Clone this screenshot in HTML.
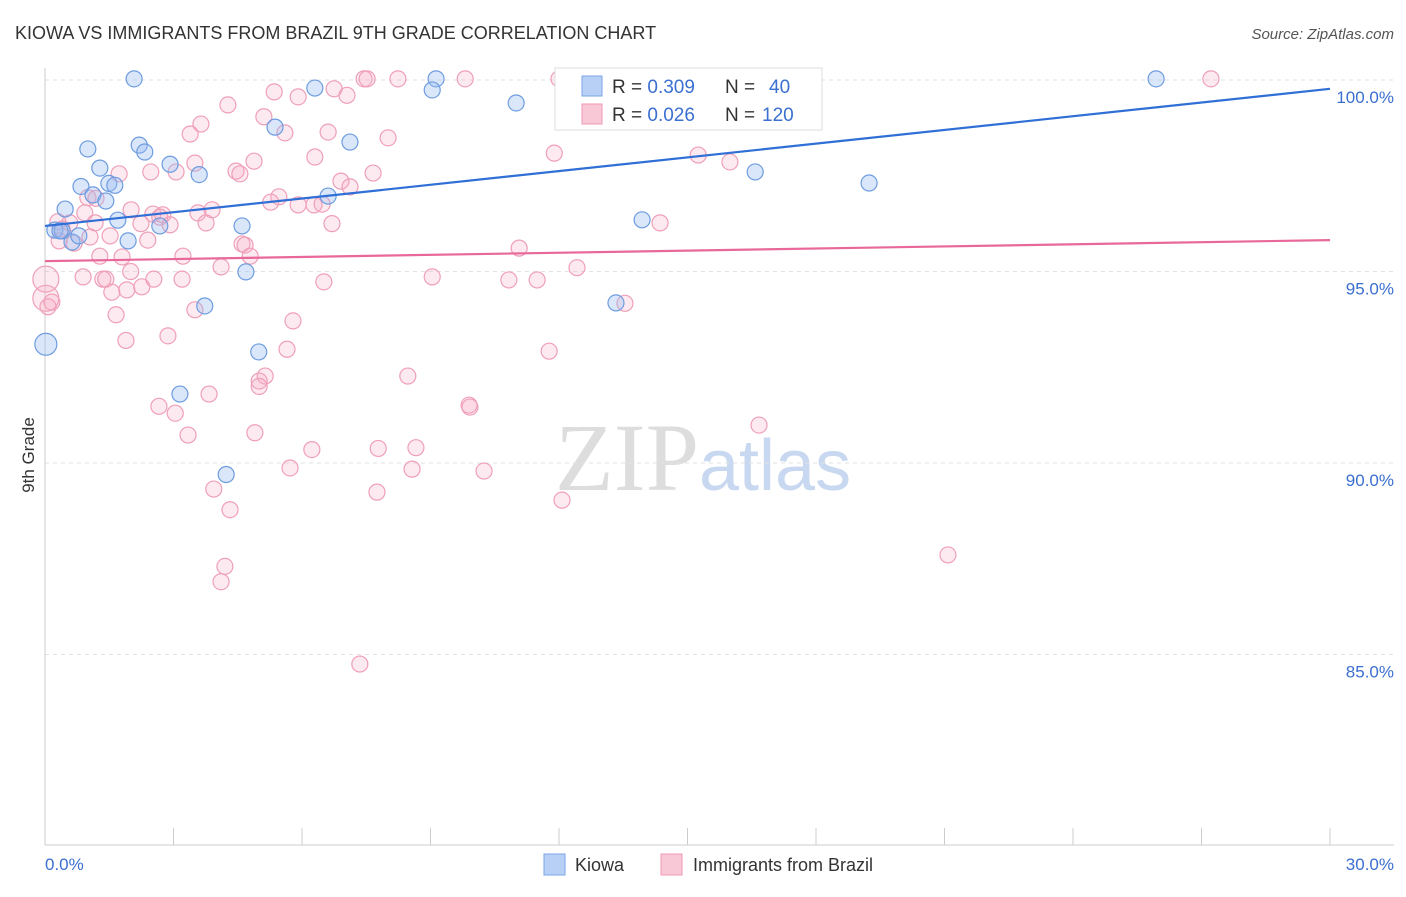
<!DOCTYPE html>
<html><head><meta charset="utf-8"><style>
body{margin:0;background:#fff;font-family:"Liberation Sans",sans-serif}
</style></head><body>
<svg id="chart" width="1406" height="892" xmlns="http://www.w3.org/2000/svg" font-family="Liberation Sans, sans-serif">
<text x="15" y="39" font-size="18" fill="#333">KIOWA VS IMMIGRANTS FROM BRAZIL 9TH GRADE CORRELATION CHART</text>
<text x="1394" y="39" font-size="15" fill="#555" font-style="italic" text-anchor="end">Source: ZipAtlas.com</text>
<text x="555" y="490" font-size="96" fill="#ddd" font-family="Liberation Serif, serif">ZIP<tspan fill="#c8d8f0" font-family="Liberation Sans, sans-serif" font-size="72">atlas</tspan></text>
<g id="grid"></g><g id="axes"></g><g id="pts"></g><g id="lines"></g>
<text transform="translate(34,455) rotate(-90)" font-size="17" fill="#333" text-anchor="middle">9th Grade</text>
<text x="45" y="870" font-size="17" fill="#3b6fd0">0.0%</text>
<text x="1394" y="870" font-size="17" fill="#3b6fd0" text-anchor="end">30.0%</text>
<g>
<rect x="555" y="68" width="267" height="62" fill="#fff" stroke="#ddd"/>
<rect x="582" y="76" width="20" height="20" fill="#b8d0f5" stroke="#7aa6e8"/>
<rect x="582" y="104" width="20" height="20" fill="#f9c8d6" stroke="#ee99b2"/>
<text x="612" y="93" font-size="19" fill="#333" xml:space="preserve">R = <tspan fill="#3b6fd0">0.309</tspan></text>
<text x="725" y="93" font-size="19" fill="#333" xml:space="preserve">N =  <tspan fill="#3b6fd0" x="769">40</tspan></text>
<text x="612" y="121" font-size="19" fill="#333" xml:space="preserve">R = <tspan fill="#3b6fd0">0.026</tspan></text>
<text x="725" y="121" font-size="19" fill="#333" xml:space="preserve">N = <tspan fill="#3b6fd0" x="762">120</tspan></text>
</g>
<g>
<rect x="544" y="854" width="21" height="21" fill="#b8d0f5" stroke="#7aa6e8"/>
<text x="575" y="871" font-size="18" fill="#333">Kiowa</text>
<rect x="661" y="854" width="21" height="21" fill="#f9c8d6" stroke="#ee99b2"/>
<text x="693" y="871" font-size="18" fill="#333">Immigrants from Brazil</text>
</g>
</svg>
<script>
const yTicks=[100,95,90,85];
const kiowaTrend=[96.19,99.77];
const brazilTrend=[95.27,95.82];
const kiowaX=[2.08,6.3,9.13,9.04,11.0,25.94,1.0,2.2,2.33,2.92,3.6,5.37,7.12,1.28,0.84,1.49,1.63,1.12,1.42,0.47,0.23,0.40,0.63,0.79,1.70,1.94,2.68,4.6,6.61,4.69,3.73,4.99,3.15,4.23,0.02,13.33,13.94,16.58,19.24,0.35];
const kiowaY=[100.03,99.79,100.03,99.74,99.4,100.03,98.2,98.3,98.12,97.8,97.53,98.77,98.38,97.7,97.22,97.3,97.25,97.0,96.84,96.63,96.08,96.06,95.77,95.93,96.34,95.8,96.19,96.19,96.97,94.99,94.1,92.9,91.8,89.7,93.1,94.18,96.35,97.6,97.31,96.06];
const brazilX=[7.45,7.52,8.24,9.81,12.0,16.23,27.22,6.75,7.05,5.35,5.91,4.27,5.11,3.64,3.39,5.6,6.61,8.01,11.89,15.25,6.3,4.88,3.5,1.73,2.47,3.06,4.46,4.55,7.66,6.91,7.12,15.99,5.46,5.27,5.91,6.28,6.47,1.0,1.19,3.9,3.57,2.01,2.52,2.75,2.68,2.24,2.92,3.76,6.7,0.93,0.58,1.17,0.40,1.52,1.05,2.40,0.33,0.68,4.6,4.67,4.79,1.28,1.80,3.22,11.07,14.36,12.42,4.11,9.04,10.83,11.49,6.51,0.89,1.35,1.42,2.54,3.2,1.56,1.91,2.26,0.16,0.07,1.66,13.54,5.79,2.87,1.89,5.65,11.77,5.14,8.47,5.0,3.83,2.66,3.04,9.9,9.92,16.67,3.34,4.9,8.66,6.23,7.78,5.72,8.57,10.25,3.94,4.32,7.75,12.07,4.2,4.11,21.08,7.35,0.02,0.02,0.3,2.0,3.5,5.0];
const brazilY=[100.03,100.03,100.03,100.03,100.03,100.03,100.03,99.77,99.6,99.69,99.56,99.35,99.04,98.85,98.59,98.62,98.64,98.49,98.09,98.04,97.99,97.88,97.83,97.55,97.6,97.6,97.62,97.55,97.57,97.36,97.21,97.86,96.95,96.81,96.74,96.74,96.76,96.93,96.91,96.61,96.53,96.61,96.5,96.48,96.42,96.25,96.22,96.27,96.25,96.53,96.27,96.27,96.11,95.93,95.9,95.82,95.8,95.74,95.72,95.69,95.4,95.4,95.38,95.4,95.61,96.27,95.1,95.12,94.86,94.78,94.78,94.73,94.86,94.8,94.8,94.8,94.8,94.46,94.52,94.6,94.2,94.08,93.87,94.17,93.71,93.32,93.2,92.97,92.92,92.27,92.27,92.14,91.8,91.48,91.3,91.51,91.46,90.99,90.73,90.79,90.4,90.35,90.38,89.87,89.84,89.79,89.32,88.78,89.24,89.03,87.3,86.9,87.6,84.75,94.8,94.3,96.3,95.0,94.0,92.0];
const X=v=>45+v*(1285/30), Y=v=>80+(100-v)*38.3;
const NS='http://www.w3.org/2000/svg';
function mk(t,a,p){const e=document.createElementNS(NS,t);for(const k in a)e.setAttribute(k,a[k]);p.appendChild(e);return e;}
const grid=document.getElementById('grid'),axes=document.getElementById('axes'),pts=document.getElementById('pts'),lines=document.getElementById('lines');
yTicks.forEach(t=>{
 const l=mk('line',{x1:45,x2:1394,y1:Y(t),y2:Y(t),stroke:'#e2e2e2','stroke-dasharray':'4,4'},grid);
 
 
 const tx=mk('text',{x:1394,y:Y(t)+23,'font-size':17,fill:'#3b6fd0','text-anchor':'end'},axes);
 tx.textContent=t.toFixed(1)+'%';
 
 
});
const ya=mk('line',{x1:45,x2:45,y1:68,y2:845,stroke:'#ccc'},axes);


const xa=mk('line',{x1:45,x2:1394,y1:845,y2:845,stroke:'#ccc'},axes);


for(let i=0;i<=10;i++){const t=mk('line',{x1:X(i*3),x2:X(i*3),y1:828,y2:845,stroke:'#ccc'},axes);
 
 }
brazilX.forEach((x,i)=>{const big=i>=brazilX.length-6&&i<brazilX.length-4;
 const c=mk('circle',{cx:X(x),cy:Y(brazilY[i]),r:big?13:8,fill:'rgba(246,170,195,0.25)',stroke:'#ef9fb8','stroke-width':1.2},pts);
 
 });
kiowaX.forEach((x,i)=>{const c=mk('circle',{cx:X(x),cy:Y(kiowaY[i]),r:i==34?11:8,fill:'rgba(150,185,240,0.35)',stroke:'#6d9ce0','stroke-width':1.2},pts);
 
 });
const kl=mk('line',{x1:X(0),y1:Y(kiowaTrend[0]),x2:X(30),y2:Y(kiowaTrend[1]),stroke:'#2f6fd6','stroke-width':2.2},lines);


const bl=mk('line',{x1:X(0),y1:Y(brazilTrend[0]),x2:X(30),y2:Y(brazilTrend[1]),stroke:'#e8689a','stroke-width':2.2},lines);


</script>
</body></html>
